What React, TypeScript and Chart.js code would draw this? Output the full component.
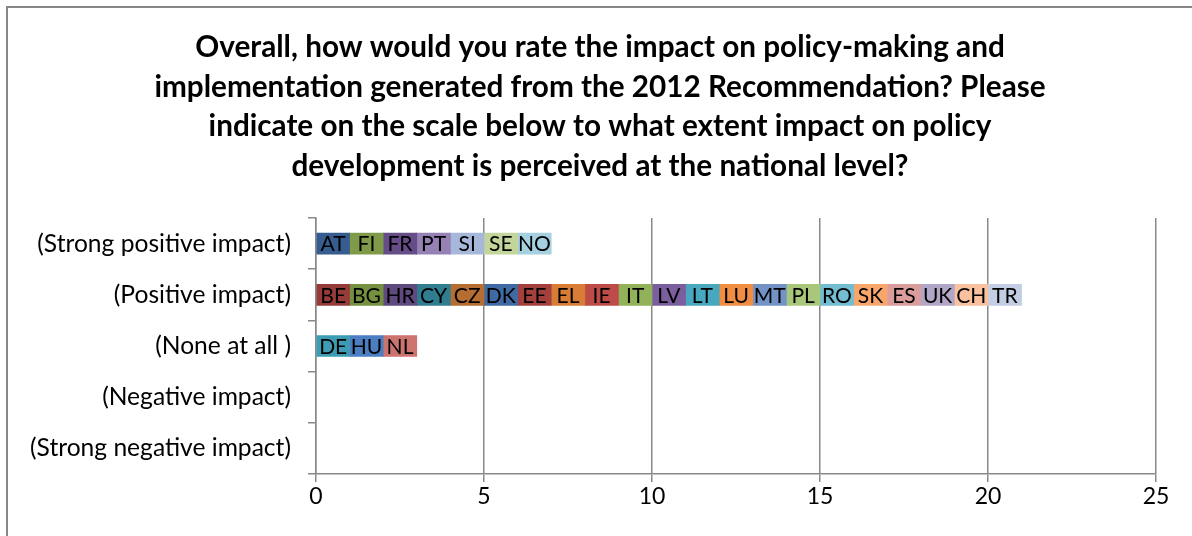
import { useEffect, useRef } from 'react';
import { Chart, registerables } from 'chart.js';

Chart.register(...registerables);

// rows of the y axis, top to bottom
const categories = [
  '(Strong positive impact)',
  '(Positive impact)',
  '(None at all )',
  '(Negative impact)',
  '(Strong negative impact)',
];

// one country = one unit in its row
const strongPositive = ['AT', 'FI', 'FR', 'PT', 'SI', 'SE', 'NO'];
const positive = ['BE', 'BG', 'HR', 'CY', 'CZ', 'DK', 'EE', 'EL', 'IE', 'IT', 'LV', 'LT', 'LU', 'MT', 'PL', 'RO', 'SK', 'ES', 'UK', 'CH', 'TR'];
const noneAtAll = ['DE', 'HU', 'NL'];
const negative: string[] = [];
const strongNegative: string[] = [];

const xTicks = [0, 5, 10, 15, 20, 25];

const titleLines = [
  'Overall, how would you rate the impact on policy-making and',
  'implementation generated from the 2012 Recommendation? Please',
  'indicate on the scale below to what extent impact on policy',
  'development is perceived at the national level?',
];

const countryColors: Record<string, string> = {
  AT: '#375d90', FI: '#7f9a48', FR: '#664d88', PT: '#9581b4', SI: '#a6b7d9', SE: '#c2d69b', NO: '#a4d0df',
  BE: '#953c3a', BG: '#75903f', HR: '#5e4a7e', CY: '#317d90', CZ: '#b66d31',
  DK: '#3f6aa4', EE: '#a33f3c', EL: '#d87c36', IE: '#bd4b48', IT: '#92b25a',
  LV: '#7b5e9e', LT: '#47a8c0', LU: '#f08d43', MT: '#7392c6', PL: '#a9c77b',
  RO: '#73bdd2', SK: '#f9a66c', ES: '#d99e9c', UK: '#b1a6c7', CH: '#fac19f', TR: '#c3cee5',
  DE: '#3d9bb3', HU: '#4a7ec1', NL: '#cc7370',
};

const rows = [strongPositive, positive, noneAtAll, negative, strongNegative];

const GRAY = '#898989';

const segmentLabels = {
  id: 'segmentLabels',
  afterDatasetsDraw(chart: any) {
    const ctx = chart.ctx;
    ctx.save();
    ctx.font = '21px Lato';
    ctx.fillStyle = '#000';
    ctx.textAlign = 'center';
    ctx.textBaseline = 'middle';
    chart.data.datasets.forEach((ds: any, i: number) => {
      const meta = chart.getDatasetMeta(i);
      meta.data.forEach((el: any, j: number) => {
        const code = ds.codes[j];
        if (!code) return;
        const p = el.getCenterPoint();
        ctx.fillText(code, p.x, p.y + 1);
      });
    });
    ctx.restore();
  },
};

// title centred on the whole page, not on the padded layout box
const pageTitle = {
  id: 'pageTitle',
  afterDraw(chart: any) {
    const ctx = chart.ctx;
    ctx.save();
    ctx.font = 'bold 29.7px Lato';
    ctx.fillStyle = '#000';
    ctx.textAlign = 'center';
    ctx.textBaseline = 'middle';
    titleLines.forEach((line, i) => {
      ctx.fillText(line, 600, 47.5 + i * 39.6);
    });
    ctx.restore();
  },
};

export default function App() {
  const canvasRef = useRef<HTMLCanvasElement | null>(null);

  useEffect(() => {
    if (!canvasRef.current) return;
    const maxLen = Math.max(...rows.map(r => r.length));
    const datasets: any[] = [];
    for (let i = 0; i < maxLen; i++) {
      datasets.push({
        label: 'slot ' + (i + 1),
        data: rows.map(r => (r[i] ? 1 : null)),
        codes: rows.map(r => r[i] || null),
        backgroundColor: rows.map(r => (r[i] ? countryColors[r[i]] : 'transparent')),
        borderWidth: 0,
        barThickness: 21,
      });
    }

    const chart = new Chart(canvasRef.current, {
      type: 'bar',
      data: { labels: categories, datasets },
      options: {
        indexAxis: 'y',
        animation: false,
        responsive: true,
        maintainAspectRatio: false,
        layout: { padding: { left: 0, right: 36, top: 218, bottom: 0 } },
        scales: {
          x: {
            stacked: true,
            min: 0,
            max: 25,
            afterBuildTicks: (scale: any) => {
              scale.ticks = xTicks.map(v => ({ value: v }));
            },
            afterFit: (scale: any) => {
              scale.height = 62;
            },
            grid: { color: GRAY, lineWidth: 1.5, tickLength: 8, drawTicks: true },
            border: { display: true, color: GRAY, width: 1.5 },
            ticks: { color: '#000', font: { family: 'Lato', size: 23 }, padding: 1 },
          },
          y: {
            stacked: true,
            afterFit: (scale: any) => {
              scale.width = 316;
            },
            grid: { drawOnChartArea: false, drawTicks: true, tickLength: 8, color: GRAY, lineWidth: 1.5 },
            border: { display: true, color: GRAY, width: 1.5 },
            ticks: { color: '#000', font: { family: 'Lato', size: 24.6 }, padding: 17 },
          },
        },
        plugins: {
          legend: { display: false },
          tooltip: { enabled: false },
          title: { display: false },
        },
      } as any,
      plugins: [segmentLabels, pageTitle],
    });

    return () => chart.destroy();
  }, []);

  return (
    <div style={{ position: 'fixed', left: 0, top: 0, width: 1192, height: 536, overflow: 'hidden', background: '#fff' }}>
      <div
        style={{
          position: 'absolute',
          left: 6,
          top: 6,
          width: 1300,
          height: 700,
          border: '2px solid #878787',
        }}
      />
      <div style={{ position: 'absolute', left: 0, top: 0, width: 1192, height: 536 }}>
        <canvas ref={canvasRef}></canvas>
      </div>
    </div>
  );
}
